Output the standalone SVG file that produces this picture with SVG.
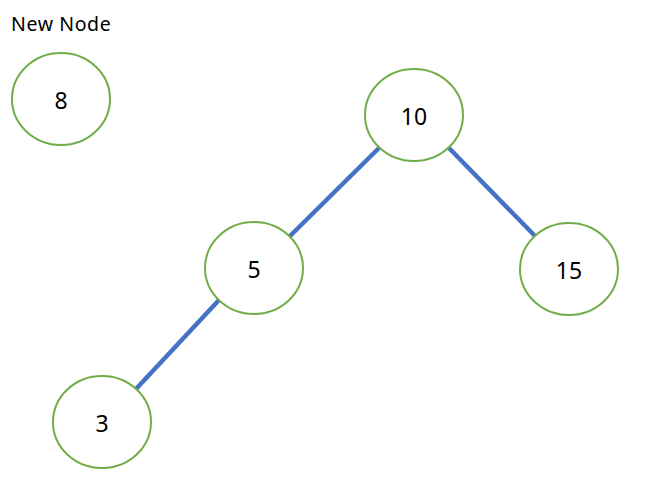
<svg xmlns="http://www.w3.org/2000/svg" width="652" height="499" viewBox="0 0 652 499">
<style>
.n{fill:#fff;stroke:#70AD47;stroke-width:2}
.t{font-family:"Noto Sans","Open Sans",sans-serif;font-size:23px;fill:#000;text-anchor:middle;dominant-baseline:central}
.e{stroke:#4472C4;stroke-width:4.5;fill:none}
</style>
<rect width="652" height="499" fill="#fff"/>
<g id="edges">
<line class="e" x1="380" y1="147" x2="289" y2="237"/>
<line class="e" x1="448" y1="147" x2="535" y2="236"/>
<line class="e" x1="219" y1="300" x2="136" y2="389"/>
</g>
<text x="11" y="31" font-family="Noto Sans, Open Sans, sans-serif" font-size="19.5" letter-spacing="0.6" fill="#000">New Node</text>
<g id="node8"><ellipse class="n" cx="61" cy="99" rx="49" ry="46"/><text class="t" x="61" y="100">8</text></g>
<g id="node10"><ellipse class="n" cx="414" cy="115" rx="49" ry="46"/><text class="t" x="414" y="116">10</text></g>
<g id="node5"><ellipse class="n" cx="254" cy="268" rx="49" ry="46"/><text class="t" x="254" y="269">5</text></g>
<g id="node15"><ellipse class="n" cx="569" cy="269" rx="49" ry="46"/><text class="t" x="569" y="270">15</text></g>
<g id="node3"><ellipse class="n" cx="102" cy="422" rx="49" ry="46"/><text class="t" x="102" y="423">3</text></g>
</svg>
